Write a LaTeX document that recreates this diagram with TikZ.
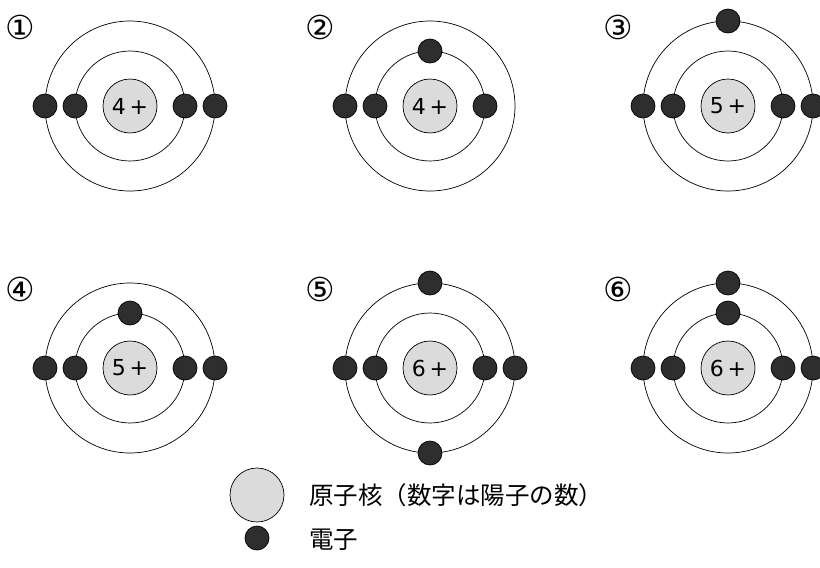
\documentclass[tikz,border=0pt]{standalone}
\usepackage{fontspec}
\newfontfamily\jpfont{Noto Sans CJK JP}
\newfontfamily\circfont{DejaVu Sans}
\begin{document}
\begin{tikzpicture}[x=1pt, y=-1pt,
	nucleus/.style={draw, circle, line width=0.7pt, fill=black!14, minimum size=54pt, inner sep=0pt, font=\circfont\fontsize{22}{24}\selectfont},
	electron/.style={draw, circle, line width=0.7pt, fill=black!82, minimum size=24pt, inner sep=0pt},
	orbit/.style={line width=0.7pt},
	number/.style={font=\circfont\fontsize{33}{36}\selectfont, inner sep=0pt},
	legend/.style={anchor=west, inner sep=0pt, font=\jpfont\fontsize{24.5}{26}\selectfont}]
\useasboundingbox (0,0) rectangle (820,568);
%atoms
\foreach \n/\lab/\x/\y/\p/\el in {
	1/①/130/106/4/{180/85,180/55,0/55,0/85},
	2/②/430/106/4/{180/85,180/55,90/55,0/55},
	3/③/728/106/5/{90/85,180/85,180/55,0/55,0/85},
	4/④/130/368/5/{90/55,180/85,180/55,0/55,0/85},
	5/⑤/430/368/6/{90/85,270/85,180/85,180/55,0/55,0/85},
	6/⑥/728/368/6/{90/85,90/55,180/85,180/55,0/55,0/85}}
{
	\node[number] (lab\n) at (\x-110,\y-79) {\lab};
	\node[nucleus] (n\n) at (\x,\y) {\p\,+};
	\draw[orbit] (n\n.center) circle[radius=55pt];
	\draw[orbit] (n\n.center) circle[radius=85pt];
	%electrons
	\foreach \a/\r [count=\k] in \el
	\node[electron] (e\n-\k) at ([shift={(\a:\r pt)}]n\n.center) {};
}
%legend
\node[nucleus] (keyn) at (257,495) {};
\node[electron] (keye) at (257,538) {};
\node[legend] (keyntext) at (309,495) {原子核（数字は陽子の数）};
\node[legend] (keyetext) at (309,540) {電子};
\end{tikzpicture}
\end{document}
